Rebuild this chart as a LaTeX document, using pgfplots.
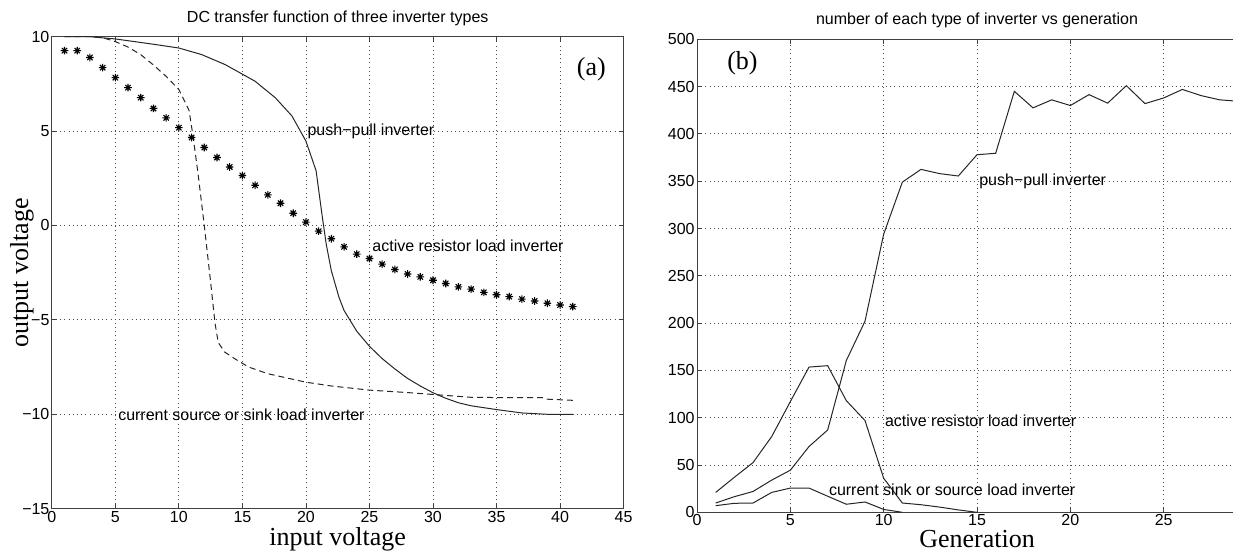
\documentclass[border=0pt]{standalone}
\usepackage{fontspec}
\setmainfont{Liberation Serif}
\setsansfont{Liberation Sans}
\usepackage{pgfplots}
\pgfplotsset{compat=1.18}

% MATLAB style '*' marker: a plus and a cross together
\pgfdeclareplotmark{mstar}{%
  \pgfpathmoveto{\pgfqpoint{-\pgfplotmarksize}{0pt}}%
  \pgfpathlineto{\pgfqpoint{\pgfplotmarksize}{0pt}}%
  \pgfpathmoveto{\pgfqpoint{0pt}{-\pgfplotmarksize}}%
  \pgfpathlineto{\pgfqpoint{0pt}{\pgfplotmarksize}}%
  \pgfpathmoveto{\pgfqpoint{-0.707\pgfplotmarksize}{-0.707\pgfplotmarksize}}%
  \pgfpathlineto{\pgfqpoint{0.707\pgfplotmarksize}{0.707\pgfplotmarksize}}%
  \pgfpathmoveto{\pgfqpoint{-0.707\pgfplotmarksize}{0.707\pgfplotmarksize}}%
  \pgfpathlineto{\pgfqpoint{0.707\pgfplotmarksize}{-0.707\pgfplotmarksize}}%
  \pgfusepathqstroke}

\pgfplotsset{
  mlab/.style={
    scale only axis,
    axis line style={black!75, line width=0.5pt},
    tick align=inside,
    major tick length=2.5pt,
    tick style={black!75, line width=0.4pt},
    grid=major,
    major grid style={black!70, line width=0.4pt, dash pattern=on 0.5pt off 1.6pt},
    ticklabel style={font=\sffamily\fontsize{8}{9}\selectfont},
    /pgf/number format/assume math mode=true,
    xticklabel style={inner sep=1pt},
    yticklabel style={inner sep=1pt},
    title style={font=\sffamily\fontsize{8}{9}\selectfont, at={(axis description cs:0.5,1)}, anchor=center, yshift=3.3pt},
    xlabel style={font=\fontsize{13}{14}\selectfont, at={(axis description cs:0.5,0)}, anchor=north, inner sep=0pt, yshift=-9pt},
    ylabel style={font=\fontsize{13}{14}\selectfont},
    clip=true,
  },
}
\tikzset{
  lbl/.style={font=\sffamily\fontsize{8}{9}\selectfont, anchor=west, inner sep=0pt},
  tag/.style={font=\fontsize{13}{14}\selectfont, anchor=west, inner sep=0pt},
  crv/.style={black!85, line width=0.5pt},
}

\begin{document}
\begin{tikzpicture}
\begin{axis}[mlab, at={(25.9pt,23.65pt)}, anchor=south west,
  width=285.9pt, height=236pt,
  xmin=0, xmax=45, ymin=-15, ymax=10,
  xtick={0,5,...,45}, ytick={-15,-10,...,10},
  yticklabels={−15,−10,−5,0,5,10},
  title={DC transfer function of three inverter types},
  xlabel={input voltage},
  ylabel={output voltage},
  ylabel style={at={(axis description cs:0,0.5)}, anchor=center, yshift=15pt}]
% push-pull
\addplot[crv] coordinates {(1,10) (3,10) (5,9.88) (8,9.6) (10,9.4) (11.8,9.05) (13.65,8.52) (16,7.64) (17.6,6.76) (18.9,5.8) (20,4.47) (20.8,2.9) (21.3,0.4) (21.6,-1.0) (22,-2.4) (22.6,-3.8) (23,-4.5) (24,-5.6) (25,-6.4) (26,-7.05) (27,-7.6) (28,-8.1) (29,-8.5) (30,-8.86) (31,-9.15) (32,-9.39) (33,-9.55) (35,-9.75) (37,-9.93) (39,-10) (41,-10)};
% current source / sink load
\addplot[crv, dash pattern=on 3pt off 2pt] coordinates {(1,10) (3,10) (4,9.95) (5,9.74) (6,9.45) (7,9.05) (8,8.5) (9,7.9) (10,7.2) (10.8,6.1) (11.1,4.8) (11.5,2.8) (12,0) (12.5,-3) (12.85,-5.2) (13.1,-6.2) (13.6,-6.7) (14.5,-7.1) (15.5,-7.5) (17,-7.85) (20,-8.3) (22,-8.5) (25,-8.72) (28,-8.85) (30,-8.95) (33,-9.1) (36,-9.12) (38.6,-9.12) (39,-9.2) (41,-9.26)};
% active resistor load
\addplot[only marks, mark=mstar, mark size=1.9pt, mark options={black, line width=0.55pt}] coordinates {(1,9.26) (2,9.26) (3,8.9) (4,8.36) (5,7.83) (6,7.3) (7,6.77) (8,6.2) (9,5.7) (10,5.18) (11,4.66) (12,4.13) (13,3.6) (14,3.1) (15,2.65) (16,2.13) (17,1.62) (18,1.18) (19,0.65) (20,0.18) (21,-0.3) (22,-0.7) (23,-1.13) (24,-1.52) (25,-1.75) (26,-2.05) (27,-2.33) (28,-2.57) (29,-2.72) (30,-2.9) (31,-3.07) (32,-3.25) (33,-3.37) (34,-3.54) (35,-3.67) (36,-3.77) (37,-3.9) (38,-4.0) (39,-4.12) (40,-4.21) (41,-4.3)};
\node[lbl] at (axis cs:20.1,5) {push−pull inverter};
\node[lbl] at (axis cs:25.2,-1.1) {active resistor load inverter};
\node[lbl] at (axis cs:5.2,-10) {current source or sink load inverter};
\node[tag] at (axis cs:41.3,8.3) {(a)};
\end{axis}

\begin{axis}[mlab, at={(348.5pt,21.85pt)}, anchor=south west,
  width=280pt, height=236.5pt,
  xmin=0, xmax=30, ymin=0, ymax=500,
  xtick={0,5,...,25}, ytick={0,50,...,500},
  title={number of each type of inverter vs generation},
  xlabel={Generation}]
% push-pull
\addplot[crv] coordinates {(1,9.8) (2,16.5) (3,22) (4,34) (5,44.5) (6,69.5) (7,87) (8,160.5) (9,202) (10,294) (11,349) (12,362.5) (13,358) (14,355.5) (15,378) (16,379.5) (17,445) (18,427.5) (19,436) (20,430) (21,441.5) (22,432.5) (23,451) (24,432) (25,438) (26,447) (27,440.5) (28,436) (29,434.5) (30,434)};
% active resistor load
\addplot[crv] coordinates {(1,21) (2,37) (3,52.5) (4,80) (5,117) (6,153.5) (7,155) (8,118) (9,97) (10,36) (11,9.8) (12,8) (13,5.5) (14,2.5) (15,0)};
% current sink / source load
\addplot[crv] coordinates {(1,7) (2,9.5) (3,9.8) (4,21) (5,25.6) (6,25.6) (7,17) (8,8.5) (9,10.9) (10,3) (11,0)};
\node[lbl] at (axis cs:15.1,350) {push−pull inverter};
\node[lbl] at (axis cs:10.05,97) {active resistor load inverter};
\node[lbl] at (axis cs:7.05,23.8) {current sink or source load inverter};
\node[tag] at (axis cs:1.6,474.6) {(b)};
\end{axis}

\pgfresetboundingbox
\path[use as bounding box] (0,0) rectangle (616.5pt,278pt);
\end{tikzpicture}
\end{document}
